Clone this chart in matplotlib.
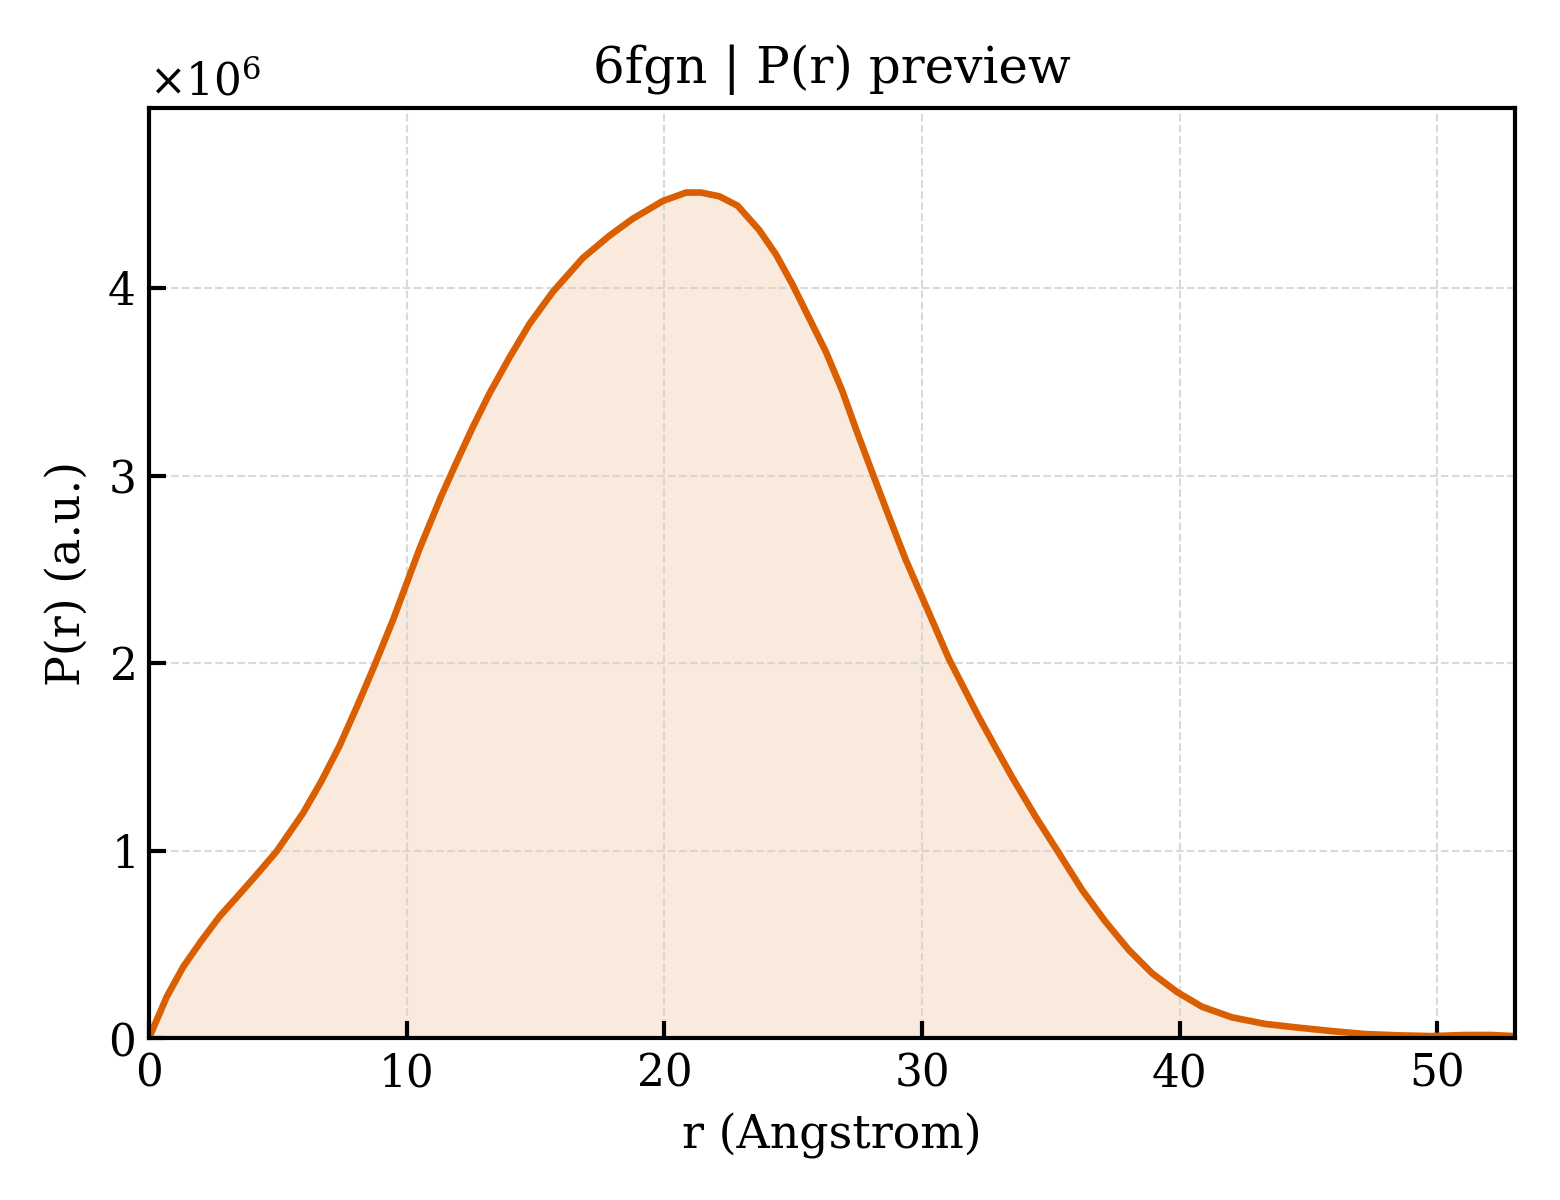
import numpy as np
import matplotlib
matplotlib.use("Agg")
import matplotlib.pyplot as plt

plt.rcParams['font.family'] = 'DejaVu Serif'
plt.rcParams['mathtext.fontset'] = 'dejavuserif'

# P(r) (r in Angstrom, P in units of 1e6)
r_vals = [0, 0.69, 1.33, 2.04, 2.75, 3.53, 4.17, 4.95, 5.98, 6.69, 7.40, 8.11,
          8.76, 9.47, 10.12, 10.50, 11.34, 11.93, 12.57, 13.22, 13.99, 14.77,
          15.67, 16.83, 17.87, 18.77, 19.94, 20.84, 21.42, 22.13, 22.84, 23.68,
          24.33, 24.97, 25.62, 26.27, 26.91, 27.43, 28.07, 28.72, 29.37, 29.88,
          30.45, 31.05, 31.63, 32.21, 32.85, 33.50, 34.41, 35.31, 36.21, 37.12,
          38.02, 38.93, 39.90, 40.86, 42.03, 43.32, 44.61, 45.90, 47.20, 48.50,
          49.78, 51.07, 52.10, 53.0]
p_scaled = [0, 0.22, 0.38, 0.52, 0.65, 0.77, 0.87, 0.995, 1.20, 1.37, 1.56, 1.78,
            1.99, 2.23, 2.47, 2.61, 2.89, 3.07, 3.26, 3.44, 3.63, 3.81,
            3.98, 4.16, 4.28, 4.37, 4.465, 4.51, 4.51, 4.49, 4.44, 4.31,
            4.18, 4.02, 3.84, 3.66, 3.45, 3.25, 3.015, 2.78, 2.55, 2.39,
            2.21, 2.02, 1.865, 1.71, 1.55, 1.39, 1.18, 0.986, 0.79, 0.62,
            0.47, 0.345, 0.245, 0.167, 0.11, 0.075, 0.055, 0.037, 0.021, 0.014,
            0.01, 0.016, 0.016, 0.01]

r = np.array(r_vals)
pr = np.array(p_scaled) * 1e6
color = '#d95f02'

fig, ax = plt.subplots(figsize=(5.2, 4.0), dpi=300)
fig.subplots_adjust(left=0.0955, right=0.971, top=0.91, bottom=0.135)

ax.fill_between(r, 0, pr, color=color, alpha=0.13, linewidth=0)
ax.plot(r, pr, color=color, lw=1.6)

ax.set_xlim(0, 53)
ax.set_ylim(0, pr.max() * 1.1)
ax.ticklabel_format(axis='y', style='sci', scilimits=(0, 0), useMathText=True)

ax.set_xlabel('r (Angstrom)', fontsize=11)
ax.set_ylabel('P(r) (a.u.)', fontsize=11)
ax.set_title('6fgn | P(r) preview', fontsize=12)

ax.tick_params(direction='in', length=4, width=1, labelsize=10.5)
ax.yaxis.get_offset_text().set_fontsize(10.5)
for s in ax.spines.values():
    s.set_linewidth(1.0)
ax.grid(True, ls='--', lw=0.5, color='#d0d0d0', alpha=0.8)

fig.savefig('out.png', dpi=300)
